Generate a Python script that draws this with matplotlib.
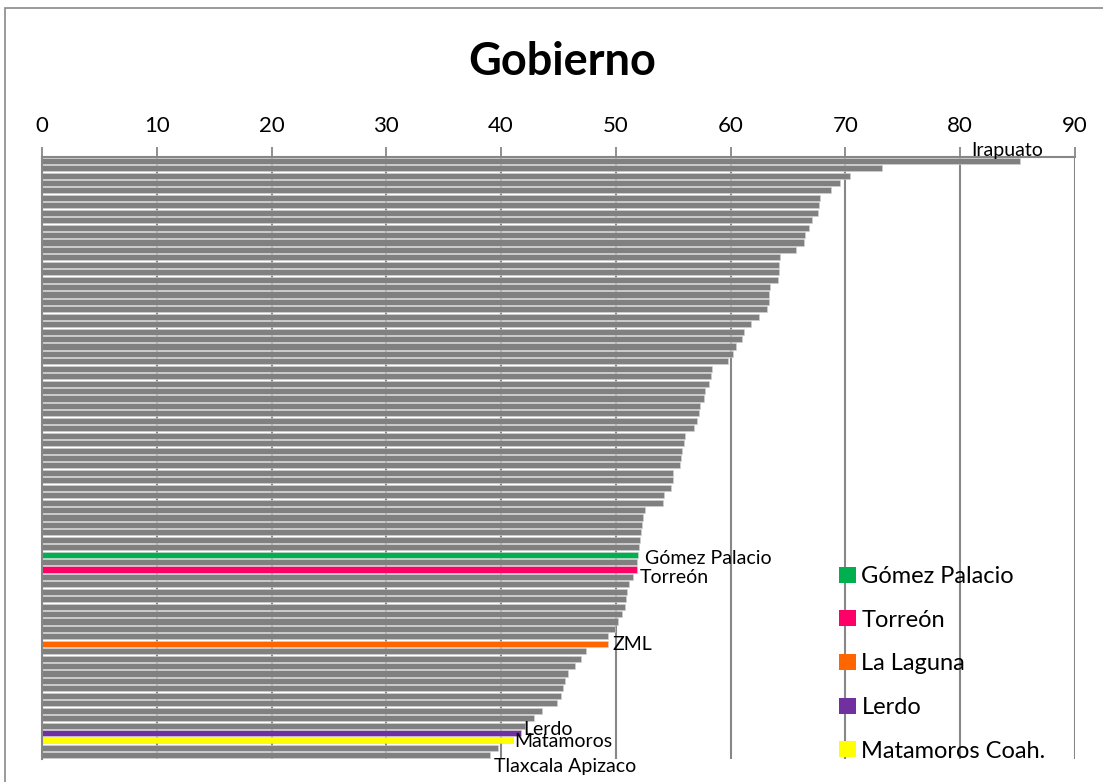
#!/usr/bin/env python3

import matplotlib.pyplot as plt
from matplotlib.patches import Patch, Rectangle


##### data #####
TITLE = "Gobierno"

VALUES = [
    85.2, 73.2, 70.4, 69.5, 68.7, 67.8, 67.7, 67.6, 67.1, 66.8,
    66.5, 66.4, 65.7, 64.3, 64.2, 64.2, 64.1, 63.4, 63.3, 63.3,
    63.2, 62.5, 61.8, 61.2, 61.0, 60.5, 60.2, 59.8, 58.4, 58.3,
    58.1, 57.8, 57.7, 57.3, 57.2, 57.1, 56.8, 56.0, 55.9, 55.8,
    55.7, 55.6, 55.0, 55.0, 54.8, 54.2, 54.1, 52.5, 52.4, 52.3,
    52.2, 52.1, 52.0, 51.9, 51.8, 51.8, 51.5, 51.1, 51.0, 50.9,
    50.8, 50.5, 50.2, 49.9, 49.3, 49.3, 47.4, 47.0, 46.4, 45.8,
    45.6, 45.4, 45.2, 44.9, 43.6, 42.9, 42.1, 41.7, 41.0, 39.7,
    39.0,
]

# labelled bars: index -> label text
BAR_LABELS = {
    0: "Irapuato",
    53: "Gómez Palacio",
    55: "Torreón",
    65: "ZML",
    77: "Lerdo",
    78: "Matamoros",
    80: "Tlaxcala Apizaco",
}

# highlighted bars: index -> (legend name, colour)
HIGHLIGHT = {
    53: ("Gómez Palacio", "#00B050"),
    55: ("Torreón", "#FF0066"),
    65: ("La Laguna", "#FF6600"),
    77: ("Lerdo", "#7030A0"),
    78: ("Matamoros Coah.", "#FFFF00"),
}

X_TICKS = [0, 10, 20, 30, 40, 50, 60, 70, 80, 90]

BAR_GRAY = "#808080"
GRID_GRAY = "#878787"

# label offsets in pixels (dx, dy, ha, va)
LABEL_OFFSETS = {
    0: (-13, 2, "center", "bottom"),
    53: (7, -4, "left", "center"),
    55: (3, -8, "left", "center"),
    65: (5, -1, "left", "center"),
    77: (3, 3, "left", "center"),
    78: (2, -1, "left", "center"),
    80: (4, -11, "left", "center"),
}


def main():
    plt.rcParams["font.family"] = ["Lato", "DejaVu Sans"]

    fig = plt.figure(figsize=(11.03, 7.82), dpi=100)
    fig.patches.append(Rectangle((5 / 1103, -0.1), 1.2, 1 - 8 / 782 + 0.1,
                                 transform=fig.transFigure, fill=False,
                                 edgecolor="#898989", linewidth=1.2))

    ax = fig.add_axes([42 / 1103, 1 - 759 / 782, (1075 - 42) / 1103, (759 - 157) / 782])

    n = len(VALUES)
    ypos = list(range(n))
    colors = [HIGHLIGHT[i][1] if i in HIGHLIGHT else BAR_GRAY for i in range(n)]

    ax.barh(ypos, VALUES, height=0.82, color=colors, edgecolor="#d4d4d4",
            linewidth=0.4, zorder=3)

    ax.set_ylim(n - 0.5, -0.5)
    ax.set_xlim(0, 90)

    ##### axis on top #####
    ax.xaxis.set_ticks_position("top")
    ax.xaxis.set_label_position("top")
    ax.set_xticks(X_TICKS)
    ax.set_xticklabels([str(t) for t in X_TICKS], fontsize=16)
    ax.tick_params(axis="x", direction="out", length=7, width=1.3,
                   color=GRID_GRAY, pad=8)
    ax.set_yticks([])

    ax.grid(axis="x", color=GRID_GRAY, linewidth=1.5, zorder=0)

    for side in ["bottom", "right"]:
        ax.spines[side].set_visible(False)
    for side in ["top", "left"]:
        ax.spines[side].set_color(GRID_GRAY)
        ax.spines[side].set_linewidth(1.5)
        ax.spines[side].set_zorder(4)

    ##### data labels #####
    for i, text in BAR_LABELS.items():
        dx, dy, ha, va = LABEL_OFFSETS[i]
        ax.annotate(text, (VALUES[i], i), xytext=(dx, dy),
                    textcoords="offset pixels", ha=ha, va=va,
                    fontsize=14, annotation_clip=False, zorder=5)

    ##### legend #####
    handles = [Patch(facecolor=c, edgecolor="none", label=name)
               for name, c in HIGHLIGHT.values()]
    ax.legend(handles=handles, loc="lower left",
              bbox_to_anchor=(830 / 1103, 11 / 782),
              bbox_transform=fig.transFigure, frameon=False, fontsize=17,
              handlelength=0.68, handleheight=0.68, handletextpad=0.25,
              labelspacing=0.96, borderaxespad=0)

    fig.text(562 / 1103, 1 - 62 / 782, TITLE, fontsize=32.5, fontweight="bold",
             ha="center", va="center")

    fig.savefig("out.png", dpi=100)
    plt.close(fig)


if __name__ == "__main__":
    main()
